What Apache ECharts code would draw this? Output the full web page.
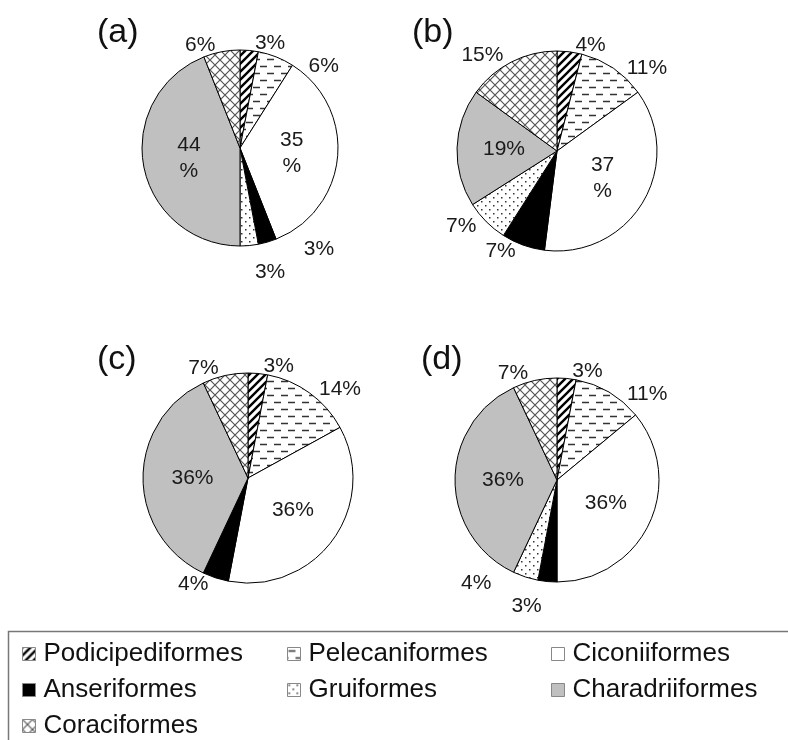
<!DOCTYPE html>
<html>
<head>
<meta charset="utf-8">
<script src="https://cdn.jsdelivr.net/npm/echarts@6/dist/echarts.min.js"></script>
<style>
html, body { margin: 0; padding: 0; background: #fff; }
#main { width: 788px; height: 740px; }
</style>
</head>
<body>
<div id="main"></div>
<script>
// orders, in the order they go round each pie (clockwise from 12 o'clock)
var orders = ['Podicipediformes', 'Pelecaniformes', 'Ciconiiformes', 'Anseriformes', 'Gruiformes', 'Charadriiformes', 'Coraciformes'];
var panels = ['(a)', '(b)', '(c)', '(d)'];
var valuesA = [3, 6, 35, 3, 3, 44, 6];
var valuesB = [4, 11, 37, 7, 7, 19, 15];
var valuesC = [3, 14, 36, 4, 0, 36, 7];
var valuesD = [3, 11, 36, 3, 4, 36, 7];
var allValues = [valuesA, valuesB, valuesC, valuesD];

// pattern tiles
function tile(w, h, draw) {
  var c = document.createElement('canvas');
  c.width = w; c.height = h;
  var ctx = c.getContext('2d');
  ctx.fillStyle = '#fff';
  ctx.fillRect(0, 0, w, h);
  draw(ctx, w, h);
  return { image: c, repeat: 'repeat' };
}
var stripes = tile(8, 8, function (ctx) {
  ctx.strokeStyle = '#000';
  ctx.lineWidth = 2.4;
  ctx.beginPath();
  ctx.moveTo(-2, 10); ctx.lineTo(10, -2);
  ctx.moveTo(-2, 2); ctx.lineTo(2, -2);
  ctx.moveTo(6, 10); ctx.lineTo(10, 6);
  ctx.stroke();
});
var dashes = tile(14, 14, function (ctx) {
  ctx.strokeStyle = '#333';
  ctx.lineWidth = 1.4;
  ctx.beginPath();
  ctx.moveTo(1, 3.5); ctx.lineTo(8, 3.5);
  ctx.moveTo(8, 10.5); ctx.lineTo(15, 10.5);
  ctx.moveTo(-6, 10.5); ctx.lineTo(1, 10.5);
  ctx.stroke();
});
var dots = tile(8, 8, function (ctx) {
  ctx.fillStyle = '#333';
  ctx.fillRect(1, 1, 1.5, 1.5);
  ctx.fillRect(5, 5, 1.5, 1.5);
});
var cross = tile(10, 10, function (ctx) {
  ctx.strokeStyle = '#555';
  ctx.lineWidth = 1.2;
  ctx.beginPath();
  ctx.moveTo(0, 0); ctx.lineTo(10, 10);
  ctx.moveTo(10, 0); ctx.lineTo(0, 10);
  ctx.stroke();
});
var fills = [stripes, dashes, '#ffffff', '#000000', dots, '#c0c0c0', cross];

var centers = [[240, 148], [557, 151], [248, 478], [557, 480]];
var radii = [98, 100, 105, 102];
var insideIdx = [[2, 5], [2, 5], [2, 5], [2, 5]];
var twoLineIdx = [[2, 5], [2], [], []];
var titlePos = [[97, 16], [412, 16], [97, 343], [421, 343]];

function build(vals, k) {
  return orders.map(function (name, i) {
    var item = { name: name, value: vals[i], itemStyle: { color: fills[i] } };
    if (vals[i] === 0) {
      item.label = { show: false };
    } else if (insideIdx[k].indexOf(i) >= 0) {
      item.label = {
        position: 'inside',
        formatter: twoLineIdx[k].indexOf(i) >= 0 ? '{c}\n%' : '{c}%',
        lineHeight: 26
      };
    }
    return item;
  });
}

var series = allValues.map(function (vals, k) {
  return {
    type: 'pie',
    center: centers[k],
    radius: radii[k],
    startAngle: 90,
    clockwise: true,
    avoidLabelOverlap: true,
    silent: true,
    emphasis: { disabled: true },
    itemStyle: { borderColor: '#000', borderWidth: 1 },
    label: {
      show: true,
      position: 'outside',
      formatter: '{c}%',
      fontFamily: 'Liberation Sans',
      fontSize: 21,
      color: '#1a1a1a',
      distanceToLabelLine: 3
    },
    labelLine: { show: false, length: 7, length2: 2 },
    data: build(vals, k)
  };
});

var legendBase = {
  orient: 'vertical',
  top: 641,
  height: 100,
  padding: 0,
  itemWidth: 13,
  itemHeight: 13,
  itemGap: 10,
  icon: 'rect',
  selectedMode: false,
  itemStyle: { borderColor: '#888', borderWidth: 1 },
  textStyle: { fontFamily: 'Liberation Sans', fontSize: 26, color: '#111', padding: [0, 0, 0, 3] }
};

var option = {
  backgroundColor: '#fff',
  animation: false,
  title: panels.map(function (t, k) {
    return {
      text: t,
      left: titlePos[k][0],
      top: titlePos[k][1],
      padding: 0,
      textStyle: { fontFamily: 'Liberation Sans', fontSize: 34, fontWeight: 'normal', color: '#111' }
    };
  }),
  legend: [
    Object.assign({}, legendBase, { left: 22, data: [orders[0], orders[3], orders[6]] }),
    Object.assign({}, legendBase, { left: 287, data: [orders[1], orders[4]] }),
    Object.assign({}, legendBase, { left: 551, data: [orders[2], orders[5]] })
  ],
  graphic: [{
    type: 'rect',
    shape: { x: 8.5, y: 631.5, width: 800, height: 130 },
    style: { fill: 'none', stroke: '#777', lineWidth: 1.5 },
    silent: true
  }],
  series: series
};

var chart = echarts.init(document.getElementById('main'));
chart.setOption(option);
</script>
</body>
</html>
